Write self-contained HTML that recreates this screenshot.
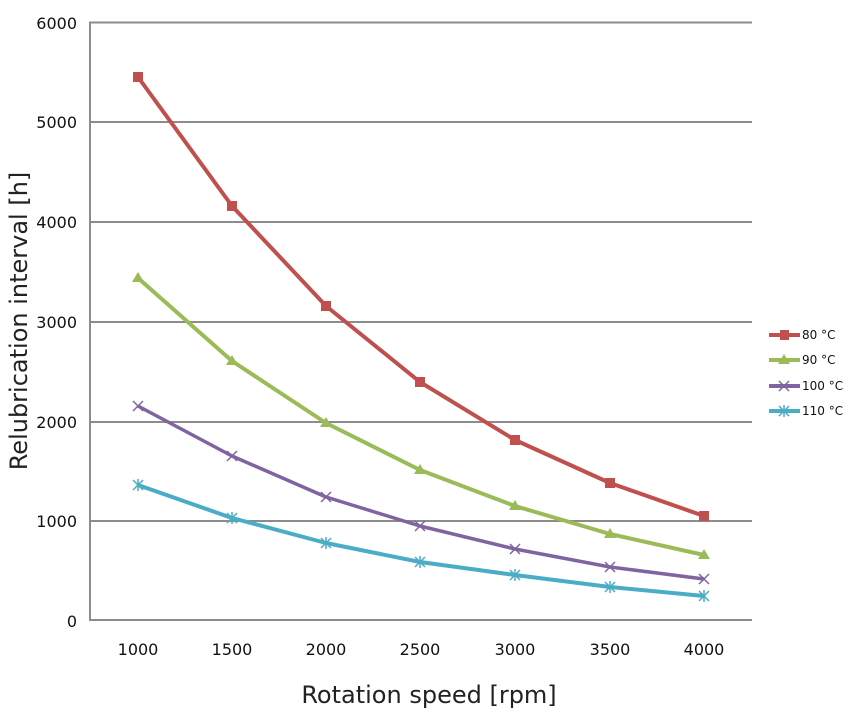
<!DOCTYPE html>
<html><head><style>body{margin:0;background:#fff}svg{display:block}</style></head><body>
<svg width="858" height="723" xmlns="http://www.w3.org/2000/svg" font-family="'DejaVu Sans','Liberation Sans',sans-serif">
<g stroke="#8c8c8c" stroke-width="2">
<line x1="89" y1="22.5" x2="752" y2="22.5"/>
<line x1="89" y1="122" x2="752" y2="122"/>
<line x1="89" y1="222" x2="752" y2="222"/>
<line x1="89" y1="322" x2="752" y2="322"/>
<line x1="89" y1="422" x2="752" y2="422"/>
<line x1="89" y1="521" x2="752" y2="521"/>
<line x1="89" y1="620" x2="752" y2="620"/>
<line x1="90" y1="22" x2="90" y2="621"/>
</g>
<g font-size="16" text-anchor="end" fill="#111">
<text x="77" y="29">6000</text><text x="77" y="128">5000</text><text x="77" y="228">4000</text>
<text x="77" y="328">3000</text><text x="77" y="428">2000</text><text x="77" y="527">1000</text><text x="77" y="627">0</text>
</g>
<g font-size="16" text-anchor="middle" fill="#111">
<text x="138" y="655">1000</text><text x="232" y="655">1500</text><text x="326" y="655">2000</text><text x="420" y="655">2500</text><text x="515" y="655">3000</text><text x="610" y="655">3500</text><text x="704" y="655">4000</text>
</g>
<text x="429" y="703" font-size="24" text-anchor="middle" fill="#222">Rotation speed [rpm]</text>
<text transform="translate(27,321) rotate(-90)" font-size="24" text-anchor="middle" fill="#222">Relubrication interval [h]</text>
<g fill="none" stroke-width="4" stroke-linejoin="round">
<polyline stroke="#c0504d" points="138,77 232,206 326,306 420,382 515,440 610,483 704,516"/>
<polyline stroke="#9bbb59" points="138,278 232,361 326,423 420,470 515,506 610,534 704,555"/>
<polyline stroke="#8064a2" stroke-width="3.5" points="138,406 232,456 326,497 420,526 515,549 610,567 704,579"/>
<polyline stroke="#4bacc6" points="138,485 232,518 326,543 420,562 515,575 610,587 704,596"/>
</g>
<g fill="#c0504d">
<rect x="133" y="72" width="10" height="10"/><rect x="227" y="201" width="10" height="10"/><rect x="321" y="301" width="10" height="10"/><rect x="415" y="377" width="10" height="10"/><rect x="510" y="435" width="10" height="10"/><rect x="605" y="478" width="10" height="10"/><rect x="699" y="511" width="10" height="10"/>
</g>
<g fill="#9bbb59">
<path d="M138,272l6,10h-12z"/><path d="M232,355l6,10h-12z"/><path d="M326,417l6,10h-12z"/><path d="M420,464l6,10h-12z"/><path d="M515,500l6,10h-12z"/><path d="M610,528l6,10h-12z"/><path d="M704,549l6,10h-12z"/>
</g>
<g stroke="#8064a2" stroke-width="1.5">
<path d="M133,401l10,10M143,401l-10,10M227,451l10,10M237,451l-10,10M321,492l10,10M331,492l-10,10M415,521l10,10M425,521l-10,10M510,544l10,10M520,544l-10,10M605,562l10,10M615,562l-10,10M699,574l10,10M709,574l-10,10"/>
</g>
<g stroke="#4bacc6" stroke-width="1.5">
<path d="M133,480l10,10M143,480l-10,10M138,479v12M227,513l10,10M237,513l-10,10M232,512v12M321,538l10,10M331,538l-10,10M326,537v12M415,557l10,10M425,557l-10,10M420,556v12M510,570l10,10M520,570l-10,10M515,569v12M605,582l10,10M615,582l-10,10M610,581v12M699,591l10,10M709,591l-10,10M704,590v12"/>
</g>
<g stroke-width="4">
<line x1="769" y1="335" x2="800" y2="335" stroke="#c0504d"/><rect x="780" y="330" width="9" height="10" fill="#c0504d"/>
<line x1="769" y1="360" x2="800" y2="360" stroke="#9bbb59"/><path d="M784,354l6,10h-12z" fill="#9bbb59" stroke="none"/>
<line x1="769" y1="386" x2="800" y2="386" stroke="#8064a2"/><path d="M779,381l10,10M789,381l-10,10" stroke="#8064a2" stroke-width="1.5"/>
<line x1="769" y1="411" x2="800" y2="411" stroke="#4bacc6"/><path d="M779,406l10,10M789,406l-10,10M784,405v12" stroke="#4bacc6" stroke-width="1.5"/>
</g>
<g font-size="12" fill="#111">
<text x="802" y="339">80 °C</text><text x="802" y="364">90 °C</text><text x="802" y="390">100 °C</text><text x="802" y="415">110 °C</text>
</g>
</svg>
</body></html>
